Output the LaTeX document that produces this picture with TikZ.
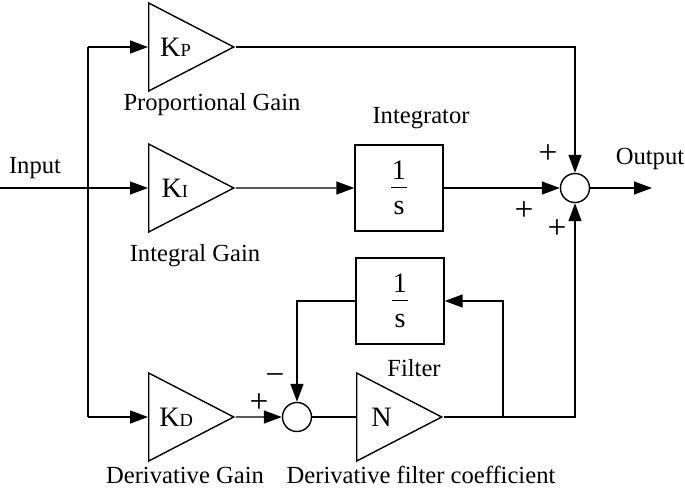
\documentclass[tikz,border=0pt]{standalone}
\usepackage{fontspec}
\setmainfont{Liberation Serif}
\usetikzlibrary{shapes.geometric,arrows.meta}
\newcommand{\gsub}[1]{{\fontsize{10.5}{12}\selectfont #1}}
\newcommand{\oneovers}{\vbox{\hbox to 9pt{\hss 1\hss}\kern4pt\hrule height .8pt\kern7.5pt\hbox to 9pt{\hss s\hss}}}
\tikzset{
  gain/.style={draw,isosceles triangle,isosceles triangle stretches,
    minimum width=17.6mm,minimum height=17mm,inner sep=0pt,anchor=west,
    font=\fontsize{16}{18}\selectfont},
  blk/.style={draw,minimum width=17.6mm,minimum height=17.2mm,inner sep=0pt,
    font=\fontsize{16}{18}\selectfont},
  sumc/.style={draw,circle,minimum size=5.8mm,inner sep=0pt},
  lbl/.style={font=\fontsize{14}{16}\selectfont,inner sep=1pt},
  sgn/.style={font=\fontsize{19}{20}\selectfont,inner sep=0pt},
  sig/.style={-{Triangle[length=3.6mm,width=2.6mm]}}
}
\begin{document}
\begin{tikzpicture}[x=.2mm,y=-.2mm,line width=.8pt]
  \useasboundingbox (0,0) rectangle (685,488);
   \coordinate (in) at (0,188);
   \coordinate (br) at (88,188);
   \coordinate (jn) at (503,417);
   \coordinate (out) at (652,188);
% blocks
  \node[gain] (kp) at (148,47) {K\gsub{P}};
  \node[gain] (ki) at (148,188) {K\gsub{I}};
  \node[gain] (kd) at (148,417) {K\gsub{D}};
  \node[gain] (nn) at (356,417) {N};
  \node[blk] (integ) at (399,188) {\oneovers};
  \node[blk] (filt) at (400,301) {\oneovers};
  \node[sumc] (sum) at (575,188) {};
  \node[sumc] (dsum) at (297,417) {};
% connectors
  \draw (in) -- (br);
  \draw[sig] (br) -- (ki.west);
  \draw (br |- kp.west) -- (br |- kd.west);
  \draw[sig] (br |- kp.west) -- (kp.west);
  \draw[sig] (br |- kd.west) -- (kd.west);
  \draw[sig] (kp.apex) -| (sum.north);
  \draw[sig] (ki.apex) -- (integ.west);
  \draw[sig] (integ.east) -- (sum.west);
  \draw[sig] (kd.apex) -- (dsum.west);
  \draw (dsum.east) -- (nn.west);
  \draw[sig] (nn.apex) -| (sum.south);
  \draw[sig] (jn) |- (filt.east);
  \draw[sig] (filt.west) -| (dsum.north);
  \draw[sig] (sum.east) -- (out);
% texts
  \node[lbl] (tin) at (35,168) {Input};
  \node[lbl] (tout) at (650,159) {Output};
  \node[lbl] (tkp) at (212,105) {Proportional Gain};
  \node[lbl] (tki) at (195,256) {Integral Gain};
  \node[lbl] (tint) at (421,118) {Integrator};
  \node[lbl] (tfilt) at (414,368) {Filter};
  \node[lbl] (tkd) at (185,475) {Derivative Gain};
  \node[lbl] (tnn) at (421,475) {Derivative filter coefficient};
% signs
  \node[sgn] (s1) at (548,154) {+};
  \node[sgn] (s2) at (524,211) {+};
  \node[sgn] (s3) at (557,229) {+};
  \node[sgn] (s4) at (259,403) {+};
  \node[sgn] (s5) at (275,380) {−};
\end{tikzpicture}
\end{document}
